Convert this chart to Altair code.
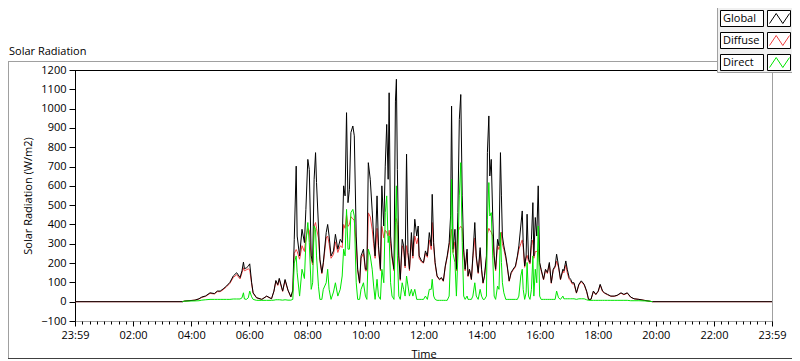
import altair as alt
import pandas as pd

# ---- data (time in minutes after 23:59 start, W/m2) ----
time_min = [
    0, 222, 226, 248, 256, 262, 270, 279, 288, 294, 300, 306, 313, 320, 327, 334, 341, 345, 348, 350,
    354, 358, 361, 365, 368, 375, 386, 396, 406, 411, 415,
    419, 422, 429, 434, 440, 446, 450, 453, 457, 459, 464, 469, 474, 477, 481, 484, 488, 491, 494, 497,
    499, 503, 506, 510, 513, 519, 522, 525, 529, 534, 538, 543, 548, 552, 555, 558, 561, 564, 567, 570,
    574, 577, 581, 584, 588, 591, 596, 600, 603, 606, 610, 614,
    617, 620, 624, 627, 631, 634, 638, 641, 644, 647, 649, 652, 655, 659, 662, 664, 666, 669, 672, 676,
    679, 682, 685, 688, 691, 695, 698, 702, 706, 709, 711, 716, 720, 724, 728, 732, 736, 738, 741, 744,
    748, 753, 757, 761, 765, 769, 773, 776, 778, 781, 785, 788, 791, 794, 797, 800, 803, 806, 810,
    812, 815, 819, 822, 826, 829, 833, 837, 840, 843, 846, 850, 852, 855, 857, 860, 863, 866, 869, 873,
    876, 879, 881, 883, 886, 890, 893, 897, 901, 905, 910, 914, 917, 921, 924, 926, 929, 932, 934, 937,
    940, 943, 946, 948, 951, 954, 957, 960, 963, 968, 972, 976, 980, 984, 988, 992, 995, 999, 1003, 1008,
    1010, 1014, 1017, 1021, 1024, 1027, 1031, 1036, 1041, 1046, 1052, 1057, 1061, 1066, 1071, 1076, 1081, 1085, 1090, 1094,
    1100, 1107, 1114, 1120, 1128, 1134, 1141, 1148, 1155, 1165, 1176, 1186, 1193, 1440,
]

global_wm2 = [
    0, 0, 3, 8, 15, 24, 30, 46, 42, 55, 55, 66, 81, 100, 133, 150, 125, 160, 205, 171,
    175, 184, 196, 98, 46, 21, 12, 29, 15, 55, 110,
    88, 121, 55, 115, 60, 25, 60, 323, 702, 340, 237, 375, 306, 478, 737, 685, 237, 203, 634, 772,
    617, 392, 220, 150, 203, 358, 400, 340, 237, 263, 349, 272, 323, 306, 600, 548, 979, 513, 582, 876,
    910, 859, 340, 168, 98, 237, 272, 168, 168, 720, 634, 470,
    340, 237, 548, 289, 168, 600, 392, 702, 918, 634, 1082, 340, 237, 168, 1039, 1152, 685, 237, 116, 323,
    289, 185, 764, 254, 168, 358, 237, 427, 340, 392, 237, 211, 203, 263, 237, 358, 289, 556, 306, 203,
    134, 116, 125, 108, 185, 237, 306, 444, 1013, 272, 375, 168, 461, 944, 1073, 548, 272, 168, 272,
    134, 168, 116, 237, 410, 237, 151, 280, 168, 98, 134, 237, 772, 962, 651, 737, 444, 237, 168, 323,
    289, 772, 548, 340, 289, 237, 185, 108, 151, 168, 185, 237, 289, 392, 470, 306, 185, 237, 453, 220,
    203, 323, 513, 237, 436, 340, 600, 203, 168, 116, 168, 151, 203, 98, 168, 185, 246, 185, 116, 168,
    160, 211, 168, 125, 116, 98, 98, 46, 90, 108, 90, 55, 12, 12, 55, 38, 55, 90, 55, 46,
    38, 29, 29, 33, 46, 38, 46, 24, 15, 12, 7, 3, 0, 0,
]

diffuse_wm2 = [
    0, 0, 3, 8, 14, 22, 28, 43, 40, 52, 52, 62, 77, 95, 125, 140, 118, 150, 175, 160,
    165, 170, 165, 92, 44, 20, 12, 28, 15, 53, 105,
    84, 115, 53, 110, 58, 24, 55, 250, 270, 260, 220, 290, 260, 330, 380, 370, 220, 190, 390, 410,
    380, 330, 210, 145, 195, 330, 340, 300, 225, 245, 310, 255, 290, 280, 400, 380, 450, 390, 400, 440,
    430, 420, 300, 160, 95, 225, 250, 160, 160, 460, 440, 375,
    300, 225, 380, 270, 160, 390, 330, 370, 360, 340, 370, 300, 225, 160, 420, 430, 400, 225, 110, 290,
    270, 175, 290, 240, 160, 320, 225, 340, 300, 330, 225, 205, 200, 250, 230, 320, 270, 410, 285, 195,
    130, 113, 122, 105, 180, 230, 290, 340, 375, 255, 310, 160, 360, 380, 390, 380, 255, 160, 255,
    130, 163, 113, 225, 330, 225, 146, 265, 160, 95, 130, 225, 350, 380, 370, 360, 340, 225, 160, 290,
    270, 306, 360, 300, 270, 225, 180, 105, 146, 163, 180, 230, 270, 300, 320, 280, 178, 225, 240, 210,
    195, 290, 320, 225, 260, 260, 270, 195, 163, 113, 163, 146, 195, 95, 163, 178, 210, 178, 113, 160,
    150, 190, 150, 115, 108, 92, 92, 44, 86, 104, 86, 52, 12, 12, 52, 36, 52, 86, 52, 44,
    36, 28, 28, 32, 44, 36, 44, 23, 15, 12, 7, 3, 0, 0,
]

direct_wm2 = [
    None, 0, 3, 4, 5, 8, 10, 12, 12, 12, 12, 12, 12, 12, 14, 14, 14, 20, 46, 14,
    12, 20, 55, 25, 12, 7, 7, 7, 7, 8, 10,
    10, 10, 8, 10, 8, 8, 12, 200, 237, 150, 29, 168, 120, 306, 410, 306, 64, 98, 392, 375,
    237, 80, 12, 12, 64, 98, 168, 64, 12, 50, 98, 29, 64, 133, 272, 237, 478, 272, 272, 461,
    478, 444, 98, 12, 12, 64, 98, 29, 12, 272, 237, 168,
    81, 12, 116, 29, 12, 168, 98, 461, 548, 306, 340, 98, 29, 12, 410, 600, 237, 29, 12, 98,
    64, 29, 133, 81, 29, 64, 29, 64, 12, 12, 12, 12, 12, 29, 12, 64, 64, 116, 29, 12,
    7, 7, 7, 7, 7, 7, 29, 237, 634, 250, 203, 29, 237, 548, 720, 306, 29, 12, 29,
    12, 12, 12, 29, 98, 29, 12, 64, 29, 12, 12, 29, 427, 617, 444, 461, 237, 29, 12, 81,
    64, 358, 203, 98, 46, 12, 12, 12, 12, 12, 12, 12, 29, 133, 168, 64, 12, 46, 203, 29,
    12, 64, 237, 29, 168, 98, 392, 29, 12, 12, 12, 12, 12, 12, 12, 12, 55, 20, 12, 29,
    15, 15, 15, 15, 15, 15, 15, 12, 15, 15, 15, 10, 7, 7, 7, 7, 7, 7, 7, 7,
    7, 7, 7, 7, 7, 7, 7, 5, 5, 5, 4, 3, 0, None,
]

series_names = ["Global", "Diffuse", "Direct"]
series_colors = ["#000000", "#f04040", "#00e600"]

x_major_ticks = list(range(0, 1441, 120))
x_minor_ticks = list(range(0, 1441, 15))
y_ticks = list(range(-100, 1201, 100))

df = pd.DataFrame({
    "t": time_min,
    "Global": global_wm2,
    "Diffuse": diffuse_wm2,
    "Direct": direct_wm2,
})

W, H = 697, 251
PAD_L, PAD_T, PAD_R, PAD_B = 67, 62, 20, 40
FONT = "Open Sans"

x_scale = alt.Scale(domain=[0, 1440], nice=False, zero=False)
y_scale = alt.Scale(domain=[-100, 1200], nice=False, zero=False)

major_x_axis = alt.Axis(
    orient="bottom", values=x_major_ticks,
    labelExpr="datum.value % 1440 == 0 ? '23:59' : (datum.value < 600 ? '0' : '') + (datum.value / 60) + ':00'",
    tickSize=5, tickColor="#000000", domainColor="#a0a0a0", grid=False,
    labelFont=FONT, labelFontSize=11, labelColor="#000000", labelPadding=3,
    labelFlush=False, labelOverlap=False,
    title="Time", titleFont=FONT, titleFontSize=11, titleFontWeight="normal",
    titleColor="#000000", titleY=36, titleBaseline="alphabetic",
)
minor_x_axis = alt.Axis(
    orient="bottom", values=x_minor_ticks, labels=False, tickSize=3,
    tickColor="#000000", domain=False, grid=False, title="",
)
y_axis = alt.Axis(
    orient="left", values=y_ticks, format="d", tickSize=6, tickColor="#000000",
    domainColor="#000000", grid=False, labelFont=FONT, labelFontSize=11,
    labelColor="#000000", labelPadding=3, labelFlush=False, labelOverlap=False,
    title="Solar Radiation (W/m2)", titleFont=FONT, titleFontSize=11,
    titleFontWeight="normal", titleColor="#000000", titlePadding=7,
)

diffuse_line = alt.Chart(df).mark_line(color=series_colors[1], strokeWidth=1).encode(
    x=alt.X("t:Q", scale=x_scale, axis=major_x_axis),
    y=alt.Y("Diffuse:Q", scale=y_scale, axis=y_axis),
)
global_line = alt.Chart(df).mark_line(color=series_colors[0], strokeWidth=1).encode(
    x=alt.X("t:Q", scale=x_scale, axis=minor_x_axis),
    y=alt.Y("Global:Q", scale=y_scale, axis=y_axis),
)
direct_line = alt.Chart(df).transform_filter("isValid(datum.Direct)").mark_line(
    color=series_colors[2], strokeWidth=1
).encode(
    x=alt.X("t:Q", scale=x_scale, axis=None),
    y=alt.Y("Direct:Q", scale=y_scale, axis=y_axis),
)

one = pd.DataFrame({"k": [0]})

def rule(x1, x2, y1, y2, color):
    return alt.Chart(one).mark_rule(color=color, strokeWidth=1).encode(
        x=alt.value(x1), x2=alt.value(x2), y=alt.value(y1), y2=alt.value(y2)
    )

frame = [
    rule(0, W, 0.5, 0.5, "#000000"),                                # plot top border
    rule(-PAD_L, 642, -8.5, -8.5, "#a0a0a0"),                       # outer panel top
    rule(-PAD_L + 0.5, -PAD_L + 0.5, -8.5, H + PAD_B - 2, "#a0a0a0"),  # outer panel left
    rule(-PAD_L, W + PAD_R, H + PAD_B - 2.5, H + PAD_B - 2.5, "#404040"),  # outer panel bottom
]

title = alt.Chart(one).mark_text(
    align="left", baseline="alphabetic", font=FONT, fontSize=11, color="#000000"
).encode(x=alt.value(-PAD_L + 1), y=alt.value(-15), text=alt.value("Solar Radiation"))

legend_panel = alt.Chart(one).mark_rect(fill="#f0f0f0", stroke="#a0a0a0", strokeWidth=1).encode(
    x=alt.value(642.5), x2=alt.value(W + PAD_R + 5), y=alt.value(-PAD_T - 5), y2=alt.value(2.5)
)

ZIG = "M-1,0.5L-0.33,-0.5L0.33,0.5L1,-0.5"
legend_layers = [legend_panel]
for i, (name, col) in enumerate(zip(series_names, series_colors)):
    top = -59.5 + i * 22
    row = pd.DataFrame({"name": [name]})
    legend_layers.append(
        alt.Chart(row).mark_rect(fill="#ffffff", stroke="#000000", strokeWidth=1).encode(
            x=alt.value(645.5), x2=alt.value(688.5), y=alt.value(top), y2=alt.value(top + 16)
        )
    )
    legend_layers.append(
        alt.Chart(row).mark_text(
            align="left", baseline="middle", font=FONT, fontSize=11, color="#000000"
        ).encode(x=alt.value(648), y=alt.value(top + 8.5), text="name:N")
    )
    legend_layers.append(
        alt.Chart(row).mark_rect(fill="#ffffff", stroke="#000000", strokeWidth=1).encode(
            x=alt.value(692.5), x2=alt.value(W + PAD_R - 1.5), y=alt.value(top), y2=alt.value(top + 16)
        )
    )
    legend_layers.append(
        alt.Chart(row).mark_point(
            shape=ZIG, filled=False, size=400, strokeWidth=1, color=col, opacity=1
        ).encode(x=alt.value(704.5), y=alt.value(top + 8))
    )

chart = alt.layer(
    diffuse_line, global_line, direct_line, *frame, title, *legend_layers
).resolve_axis(x="independent").properties(
    width=W, height=H,
    padding={"left": PAD_L, "top": PAD_T, "right": PAD_R, "bottom": PAD_B},
    autosize=alt.AutoSizeParams(type="none"),
    background="#ffffff",
).configure_view(stroke="#a0a0a0", strokeWidth=1)

chart.save("out.html", embed_options={"renderer": "svg", "actions": False})
